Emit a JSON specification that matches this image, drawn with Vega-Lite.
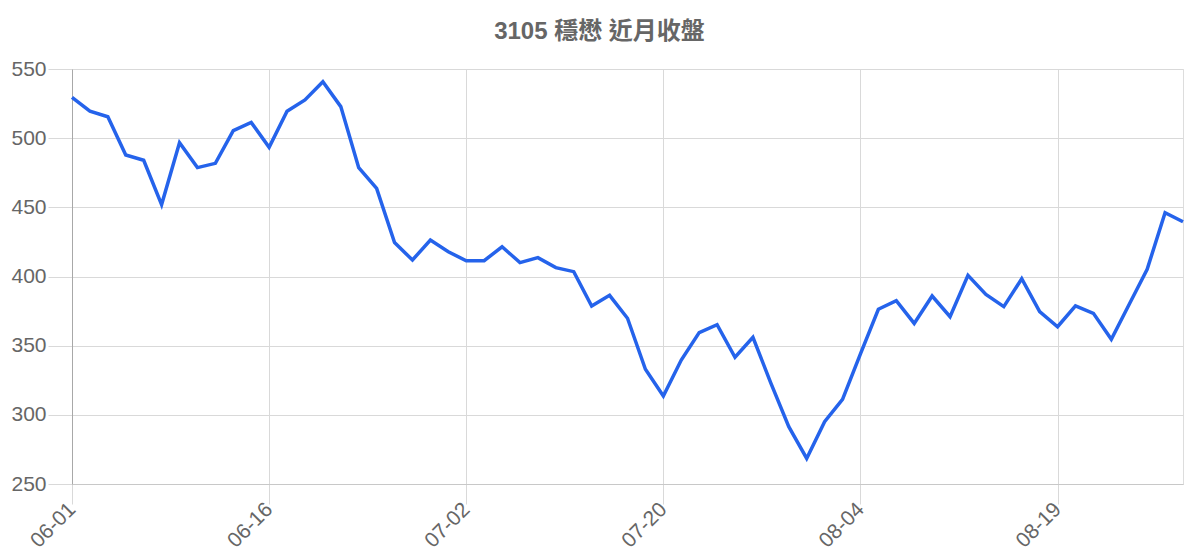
{
  "$schema": "https://vega.github.io/schema/vega-lite/v6.json",
  "autosize": {"type": "none"},
  "width": 1111,
  "height": 415,
  "padding": {"left": 72, "top": 69, "right": 17, "bottom": 76},
  "background": "white",
  "title": {
    "text": "3105 穩懋 近月收盤",
    "font": "Liberation Sans, Noto Sans CJK TC",
    "fontSize": 24,
    "fontWeight": "bold",
    "color": "#666666",
    "anchor": "middle",
    "dx": -28,
    "offset": 14
  },
  "data": {
    "values": [
      {"date": "06-01", "close": 529.5},
      {"date": "06-02", "close": 519.6},
      {"date": "06-03", "close": 515.5},
      {"date": "06-04", "close": 487.8},
      {"date": "06-07", "close": 484},
      {"date": "06-08", "close": 452},
      {"date": "06-09", "close": 496.7},
      {"date": "06-10", "close": 478.7},
      {"date": "06-11", "close": 481.8},
      {"date": "06-14", "close": 505.4},
      {"date": "06-15", "close": 511.4},
      {"date": "06-16", "close": 493.4},
      {"date": "06-17", "close": 519.4},
      {"date": "06-18", "close": 527.6},
      {"date": "06-21", "close": 540.8},
      {"date": "06-22", "close": 522.8},
      {"date": "06-23", "close": 478.7},
      {"date": "06-24", "close": 463.7},
      {"date": "06-25", "close": 424.5},
      {"date": "06-28", "close": 411.9},
      {"date": "06-29", "close": 426.4},
      {"date": "06-30", "close": 417.9},
      {"date": "07-02", "close": 411.4},
      {"date": "07-05", "close": 411.4},
      {"date": "07-06", "close": 421.5},
      {"date": "07-07", "close": 410},
      {"date": "07-08", "close": 413.6},
      {"date": "07-09", "close": 406.4},
      {"date": "07-12", "close": 403.5},
      {"date": "07-13", "close": 378.7},
      {"date": "07-14", "close": 386.4},
      {"date": "07-15", "close": 369.8},
      {"date": "07-16", "close": 332.9},
      {"date": "07-20", "close": 313.6},
      {"date": "07-21", "close": 339.6},
      {"date": "07-22", "close": 359.4},
      {"date": "07-23", "close": 365.2},
      {"date": "07-26", "close": 341.6},
      {"date": "07-27", "close": 356},
      {"date": "07-28", "close": 323},
      {"date": "07-29", "close": 291.4},
      {"date": "07-30", "close": 268.5},
      {"date": "08-02", "close": 295},
      {"date": "08-03", "close": 311.2},
      {"date": "08-04", "close": 344},
      {"date": "08-05", "close": 376.3},
      {"date": "08-06", "close": 382.5},
      {"date": "08-09", "close": 366.1},
      {"date": "08-10", "close": 385.9},
      {"date": "08-11", "close": 370.9},
      {"date": "08-12", "close": 400.8},
      {"date": "08-13", "close": 387.1},
      {"date": "08-16", "close": 378.2},
      {"date": "08-17", "close": 398.4},
      {"date": "08-18", "close": 374.6},
      {"date": "08-19", "close": 363.7},
      {"date": "08-20", "close": 378.8},
      {"date": "08-23", "close": 373.4},
      {"date": "08-24", "close": 354.6},
      {"date": "08-25", "close": 379.9},
      {"date": "08-26", "close": 405.2},
      {"date": "08-27", "close": 446.1},
      {"date": "08-30", "close": 439.6}
    ]
  },
  "mark": {"type": "line", "color": "#2563eb", "strokeWidth": 3.5, "strokeJoin": "miter"},
  "encoding": {
    "x": {
      "field": "date",
      "type": "ordinal",
      "sort": null,
      "scale": {"type": "point", "padding": 0},
      "axis": {
        "title": null,
        "values": ["06-01", "06-16", "07-02", "07-20", "08-04", "08-19"],
        "labelAngle": -45,
        "labelAlign": "right",
        "labelBaseline": "middle",
        "labelFont": "Liberation Sans",
        "labelFontSize": 21,
        "labelColor": "#666666",
        "labelPadding": 2,
        "tickSize": 20,
        "tickColor": "#d9d9d9",
        "grid": true,
        "gridColor": "#d9d9d9",
        "domainColor": "#c8c8c8"
      }
    },
    "y": {
      "field": "close",
      "type": "quantitative",
      "scale": {"domain": [250, 550], "nice": false, "zero": false},
      "axis": {
        "title": null,
        "values": [250, 300, 350, 400, 450, 500, 550],
        "labelFont": "Liberation Sans",
        "labelFontSize": 21,
        "labelColor": "#666666",
        "labelPadding": 2,
        "tickSize": 24,
        "tickColor": "#d9d9d9",
        "gridColor": "#d9d9d9",
        "domainColor": "#a8a8a8"
      }
    }
  }
}
